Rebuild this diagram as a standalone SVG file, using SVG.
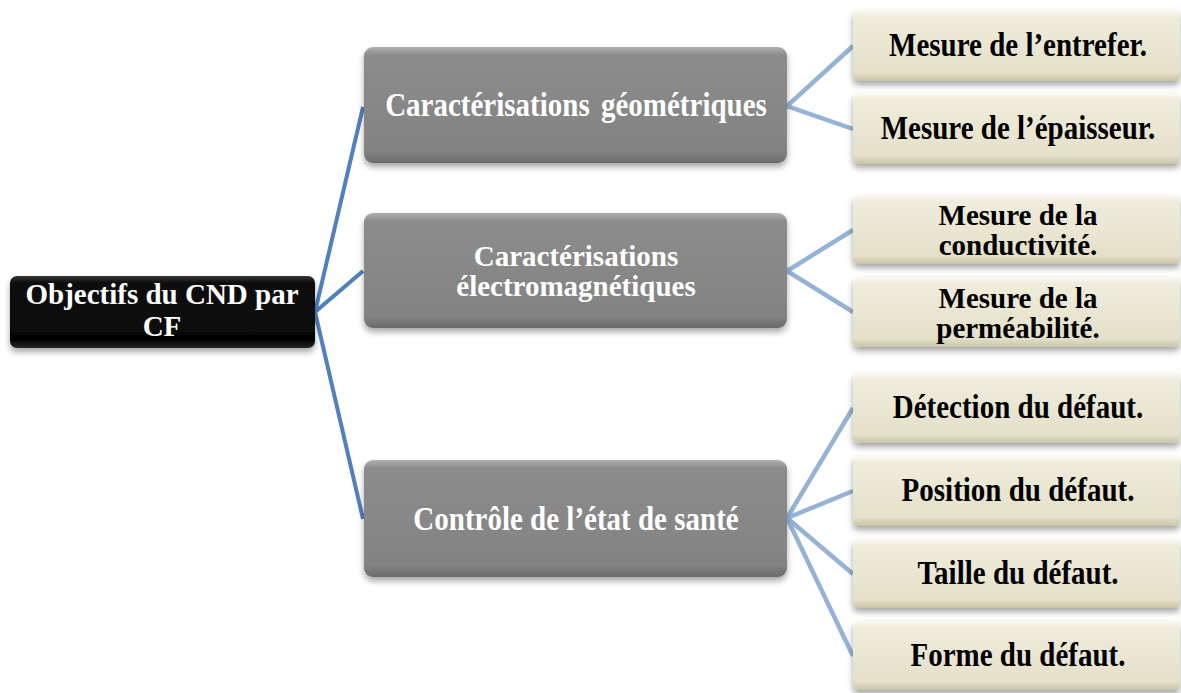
<svg xmlns="http://www.w3.org/2000/svg" width="1181" height="693" viewBox="0 0 1181 693">
<defs>
<style>
text{font-family:"Liberation Serif","Times New Roman",serif;font-weight:bold;font-size:29px;text-anchor:middle}
.w{fill:#ffffff}
.k{fill:#000000}
.c1{stroke:#4F81BD;stroke-width:4;fill:none}
.c2{stroke:#95B3D7;stroke-width:4.5;fill:none}
</style>
<linearGradient id="gBlack" x1="0" y1="0" x2="0" y2="1">
<stop offset="0" stop-color="#3a3a3a"/><stop offset="0.08" stop-color="#111"/><stop offset="0.9" stop-color="#050505"/><stop offset="1" stop-color="#2a2a2a"/>
</linearGradient>
<linearGradient id="gGray" x1="0" y1="0" x2="0" y2="1">
<stop offset="0" stop-color="#b0b0b0"/><stop offset="0.07" stop-color="#8c8c8c"/><stop offset="0.9" stop-color="#838383"/><stop offset="1" stop-color="#6a6a6a"/>
</linearGradient>
<linearGradient id="gBeige" x1="0" y1="0" x2="0" y2="1">
<stop offset="0" stop-color="#fbfaf3"/><stop offset="0.1" stop-color="#efecdc"/><stop offset="0.88" stop-color="#e4e0c9"/><stop offset="1" stop-color="#c9c4a8"/>
</linearGradient>
<filter id="sh" x="-10%" y="-20%" width="120%" height="150%">
<feDropShadow dx="0" dy="4" stdDeviation="3" flood-color="#000" flood-opacity="0.35"/>
</filter>
</defs>
<rect width="1181" height="693" fill="#ffffff"/>
<g id="connectors">
<polyline class="c1" points="363,107 315,312 363,271"/>
<line class="c1" x1="315" y1="312" x2="363" y2="519"/>
<polyline class="c2" points="853,46 787,106 853,129"/>
<polyline class="c2" points="853,230 787,271 853,312"/>
<polyline class="c2" points="853,408 787,518 853,491"/>
<polyline class="c2" points="853,574 787,518 853,656"/>
</g>
<g id="root">
<rect x="10" y="276" width="305" height="72" rx="7" fill="url(#gBlack)" filter="url(#sh)"/>
<text class="w" x="162" y="304">Objectifs du CND par</text>
<text class="w" x="162" y="336">CF</text>
</g>
<g id="geo">
<rect x="364" y="47" width="423" height="116" rx="9" fill="url(#gGray)" filter="url(#sh)"/>
<text class="w" word-spacing="4" transform="translate(576,116) scale(1,1.15)">Caractérisations géométriques</text>
</g>
<g id="em">
<rect x="364" y="213" width="423" height="115" rx="9" fill="url(#gGray)" filter="url(#sh)"/>
<text class="w" x="576" y="266">Caractérisations</text>
<text class="w" x="576" y="296">électromagnétiques</text>
</g>
<g id="sante">
<rect x="364" y="460" width="423" height="117" rx="9" fill="url(#gGray)" filter="url(#sh)"/>
<text class="w" transform="translate(576,530) scale(1,1.15)">Contrôle de l’état de santé</text>
</g>
<g id="leaf1">
<rect x="853" y="10" width="327" height="71" rx="5" fill="url(#gBeige)" filter="url(#sh)"/>
<text class="k" transform="translate(1018,56) scale(1,1.15)">Mesure de l’entrefer.</text>
</g>
<g id="leaf2">
<rect x="853" y="93" width="327" height="71" rx="5" fill="url(#gBeige)" filter="url(#sh)"/>
<text class="k" transform="translate(1018,139) scale(1,1.15)">Mesure de l’épaisseur.</text>
</g>
<g id="leaf3">
<rect x="853" y="195" width="327" height="69" rx="5" fill="url(#gBeige)" filter="url(#sh)"/>
<text class="k" x="1018" y="225">Mesure de la</text>
<text class="k" x="1018" y="255">conductivité.</text>
</g>
<g id="leaf4">
<rect x="853" y="277" width="327" height="70" rx="5" fill="url(#gBeige)" filter="url(#sh)"/>
<text class="k" x="1018" y="308">Mesure de la</text>
<text class="k" x="1018" y="338">perméabilité.</text>
</g>
<g id="leaf5">
<rect x="853" y="373" width="327" height="70" rx="5" fill="url(#gBeige)" filter="url(#sh)"/>
<text class="k" transform="translate(1018,418) scale(1,1.15)">Détection du défaut.</text>
</g>
<g id="leaf6">
<rect x="853" y="456" width="327" height="70" rx="5" fill="url(#gBeige)" filter="url(#sh)"/>
<text class="k" transform="translate(1018,501) scale(1,1.15)">Position du défaut.</text>
</g>
<g id="leaf7">
<rect x="853" y="539" width="327" height="69" rx="5" fill="url(#gBeige)" filter="url(#sh)"/>
<text class="k" transform="translate(1018,584) scale(1,1.15)">Taille du défaut.</text>
</g>
<g id="leaf8">
<rect x="853" y="621" width="327" height="69" rx="5" fill="url(#gBeige)" filter="url(#sh)"/>
<text class="k" transform="translate(1018,666) scale(1,1.15)">Forme du défaut.</text>
</g>
</svg>
